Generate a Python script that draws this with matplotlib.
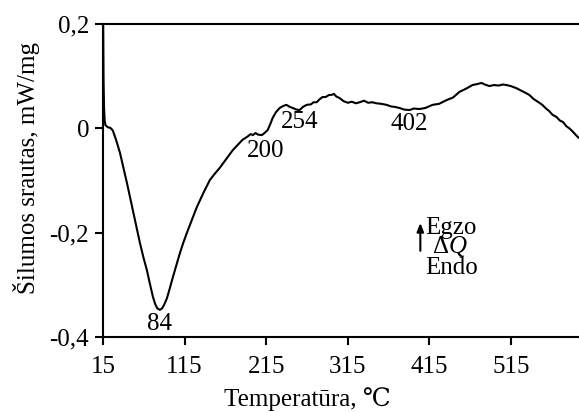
import matplotlib
matplotlib.use("Agg")
import matplotlib.pyplot as plt

# DSC curve
temp = [15.0, 15.3, 15.7, 16.3, 17.0, 18.0, 21.0, 24.0, 27.0, 31.0, 35.8, 40.0,
        44.4, 48.0, 51.7, 56.0, 60.3, 64.5, 68.8, 72.5, 76.2, 79.0, 81.5, 84.8,
        87.5, 90.0, 93.3, 97.0, 100.7, 105.0, 109.3, 113.5, 117.9, 124.0, 130.0,
        138.0, 146.0, 152.0, 158.0, 166.0, 174.0, 180.0, 186.0, 192.0, 196.0,
        198.6, 202.0, 205.0, 209.6, 213.0, 217.0, 220.0, 223.0, 227.0, 231.6,
        236.0, 240.0, 244.0, 247.6, 252.0, 256.0, 260.0, 264.7, 270.0, 273.0,
        277.0, 280.0, 284.0, 288.0, 292.0, 295.0, 298.0, 301.0, 305.0, 310.0,
        315.0, 320.0, 325.0, 329.6, 335.0, 340.0, 345.0, 350.0, 356.0, 362.6,
        368.0, 373.0, 378.5, 384.0, 390.8, 396.0, 403.0, 410.0, 419.0, 427.0,
        436.0, 444.0, 452.0, 460.0, 468.0, 474.0, 479.0, 483.0, 488.7, 494.0,
        500.0, 505.0, 509.5, 515.0, 521.7, 528.0, 533.0, 537.6, 543.0, 548.0,
        553.5, 558.0, 562.0, 566.0, 570.7, 575.0, 579.0, 583.0, 586.6, 590.0,
        593.0, 596.0, 598.0]
heat_flow = [0.26, 0.17, 0.09, 0.04, 0.015, 0.006, 0.002, 0.001, -0.004, -0.022,
             -0.047, -0.075, -0.105, -0.131, -0.157, -0.189, -0.22, -0.247,
             -0.272, -0.298, -0.323, -0.337, -0.345, -0.348, -0.345, -0.338,
             -0.326, -0.306, -0.285, -0.262, -0.239, -0.219, -0.2, -0.175,
             -0.151, -0.124, -0.099, -0.087, -0.076, -0.059, -0.042, -0.032,
             -0.022, -0.016, -0.011, -0.013, -0.009, -0.012, -0.013, -0.009,
             -0.003, 0.008, 0.02, 0.031, 0.039, 0.043, 0.045, 0.041, 0.039,
             0.036, 0.035, 0.041, 0.045, 0.046, 0.05, 0.05, 0.055, 0.06, 0.06,
             0.064, 0.064, 0.066, 0.061, 0.058, 0.052, 0.049, 0.051, 0.048,
             0.05, 0.053, 0.049, 0.05, 0.048, 0.047, 0.045, 0.042, 0.041,
             0.039, 0.036, 0.035, 0.038, 0.037, 0.039, 0.045, 0.047, 0.054,
             0.059, 0.07, 0.076, 0.083, 0.085, 0.087, 0.084, 0.081, 0.083,
             0.082, 0.084, 0.083, 0.081, 0.077, 0.072, 0.068, 0.064, 0.056,
             0.051, 0.045, 0.038, 0.033, 0.026, 0.022, 0.015, 0.012, 0.004,
             0.0, -0.005, -0.01, -0.015, -0.018]

peak_temps = [84, 200, 254, 402]
peak_label_x = [84.8, 214, 256, 391]
peak_label_y = [-0.375, -0.043, 0.012, 0.009]

x_ticks = [15, 115, 215, 315, 415, 515]
y_ticks = [0.2, 0, -0.2, -0.4]
y_tick_labels = ["0,2", "0", "-0,2", "-0,4"]

serif = ["Liberation Serif", "DejaVu Serif"]
plt.rcParams["font.family"] = serif
plt.rcParams["mathtext.fontset"] = "custom"
plt.rcParams["mathtext.rm"] = "Liberation Serif"
plt.rcParams["mathtext.it"] = "Liberation Serif:italic"

fs = 18

fig = plt.figure(figsize=(5.79, 4.12), dpi=100)
ax_w = 496 / 579
ax = fig.add_axes([103 / 579, 1 - 337 / 412, ax_w, 313 / 412])

ax.plot(temp, heat_flow, color="black", lw=1.5)

ax.set_xlim(15, 623)
ax.set_ylim(-0.4, 0.2)
ax.set_xticks(x_ticks)
ax.set_yticks(y_ticks)
ax.set_yticklabels(y_tick_labels)
ax.tick_params(direction="out", length=6, width=1.5, labelsize=fs)
ax.tick_params(axis="x", pad=8)
ax.tick_params(axis="y", pad=4)
for s in ax.spines.values():
    s.set_linewidth(1.5)

for t, lx, ly in zip(peak_temps, peak_label_x, peak_label_y):
    ax.text(lx, ly, str(t), fontsize=fs, ha="center", va="center")

ax.annotate("", xy=(404, -0.176), xytext=(404, -0.24),
            arrowprops=dict(arrowstyle="-|>,head_length=0.5,head_width=0.2",
                            color="black", lw=1.5))
ax.text(442, -0.191, "Egzo", fontsize=fs, ha="center", va="center")
ax.text(440, -0.226, r"$\Delta Q$", fontsize=fs, ha="center", va="center")
ax.text(442, -0.268, "Endo", fontsize=fs, ha="center", va="center")

ax.set_xlabel("Temperatūra, ℃", fontsize=fs)
ax.xaxis.set_label_coords((307 - 103) / 496, -50 / 313)
ax.set_ylabel("Šilumos srautas, mW/mg", fontsize=fs)
ax.yaxis.set_label_coords(-63 / 496, 0.54)

fig.savefig("out.png", dpi=100)
